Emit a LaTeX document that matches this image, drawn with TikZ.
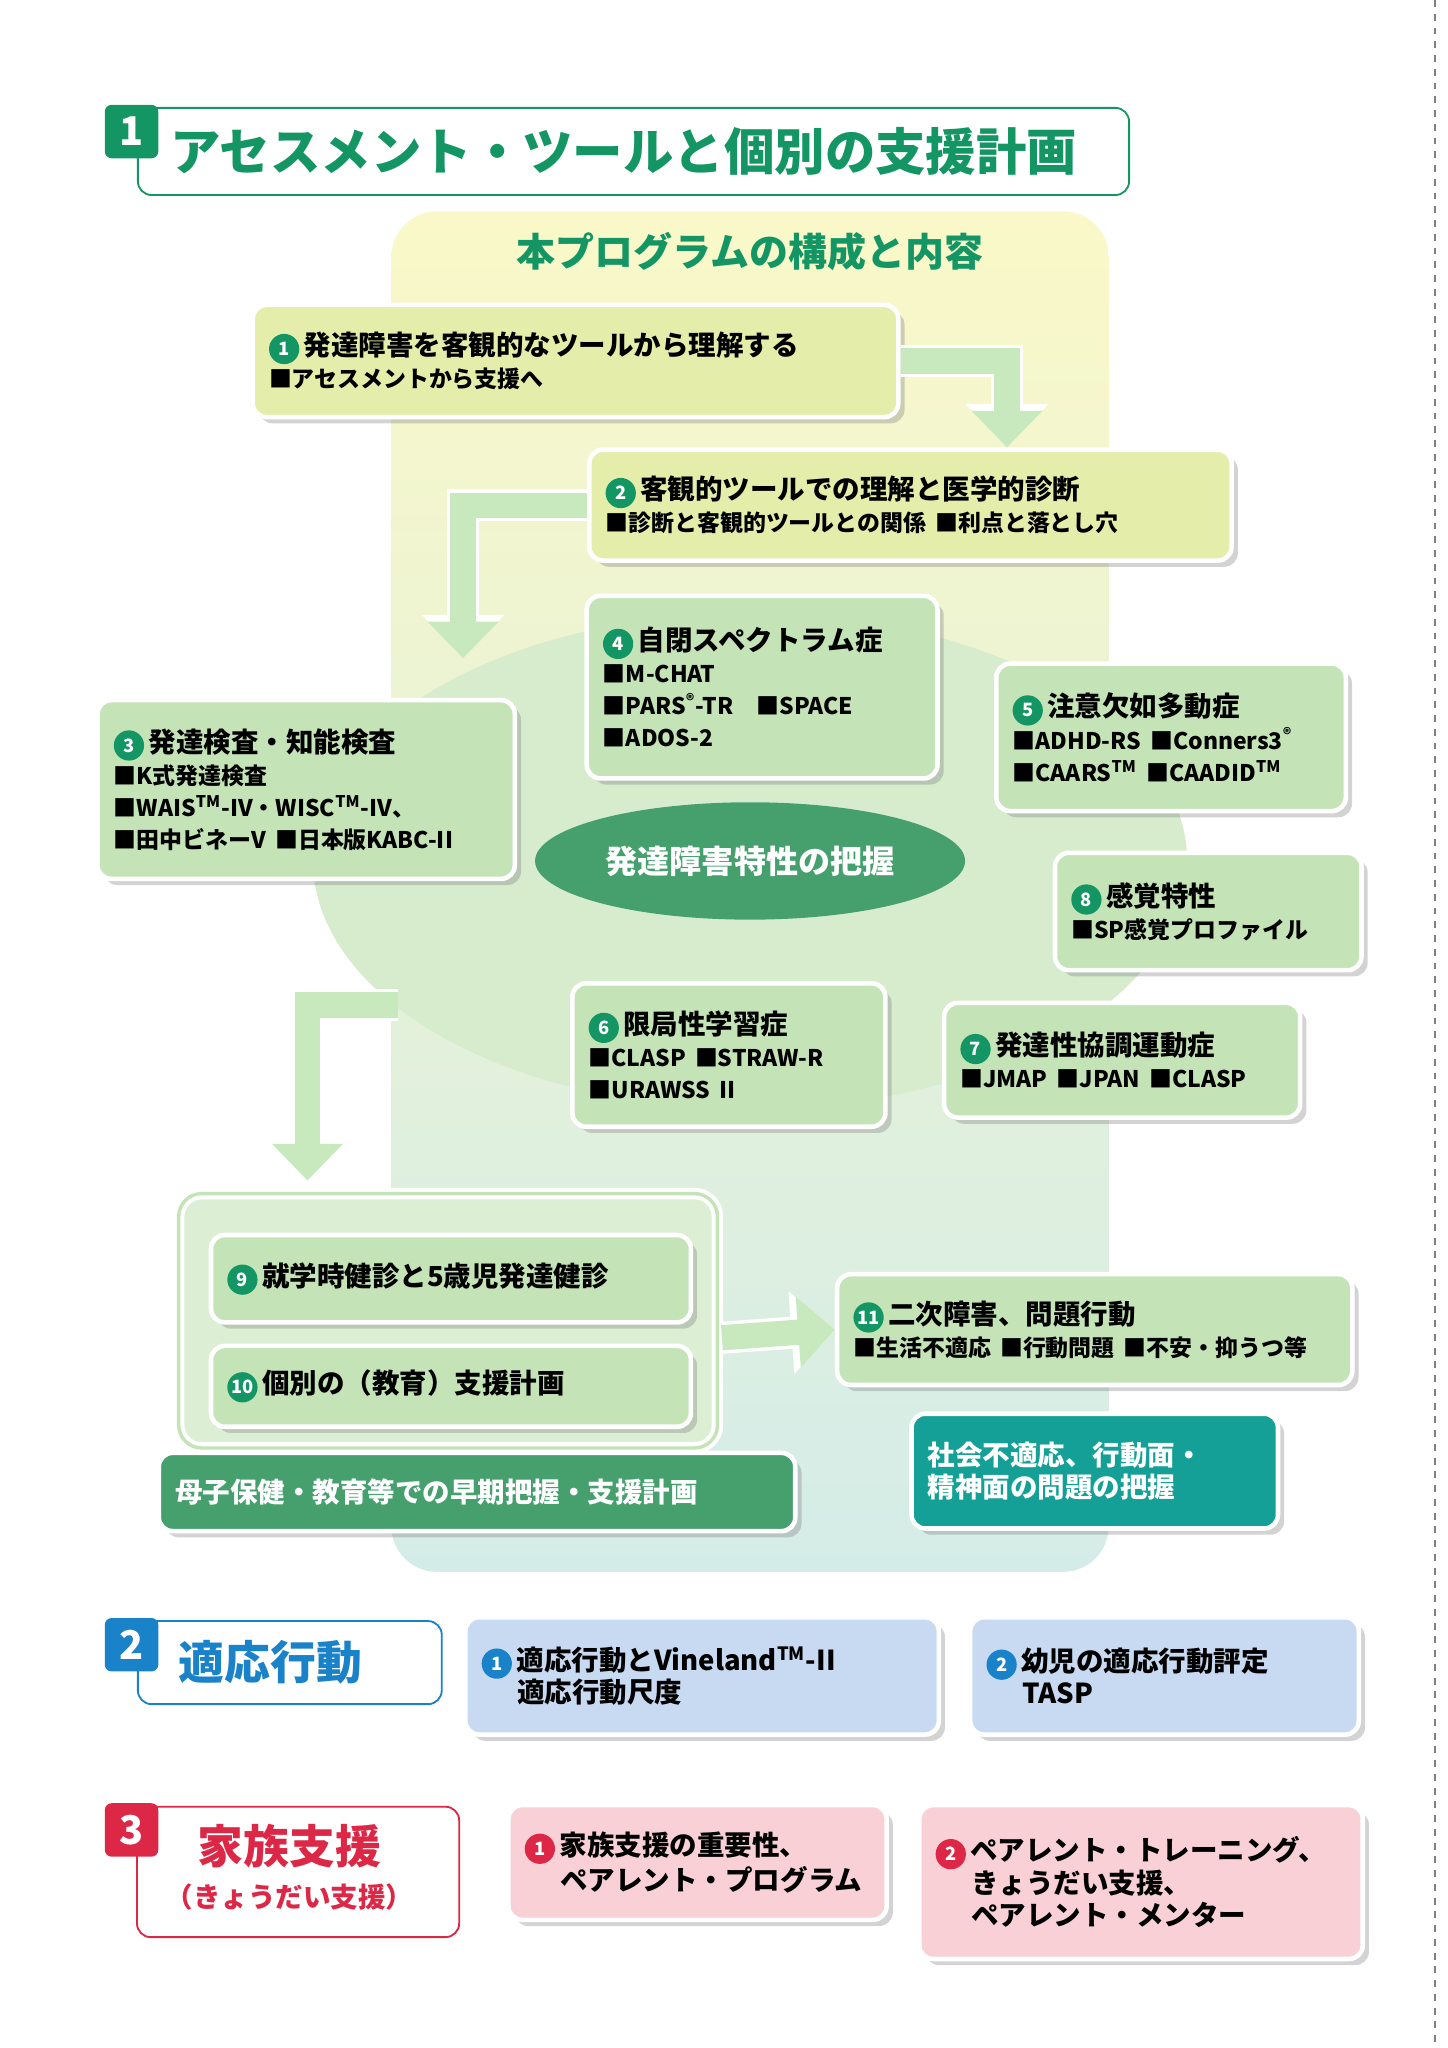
\documentclass[tikz,border=0pt]{standalone}
\usepackage{fontspec}
\setmainfont{Noto Sans CJK JP}
\usetikzlibrary{shadows, arrows.meta, positioning, calc, shapes}
\definecolor{my_green}{RGB}{20, 150, 100}
\definecolor{my_darkgreen}{RGB}{70, 160, 110}
\definecolor{my_boxgreen}{RGB}{196, 228, 184}
\definecolor{my_yellowgreen}{RGB}{228, 238, 170}
\definecolor{my_teal}{RGB}{20, 160, 150}
\definecolor{my_blue}{RGB}{25, 130, 200}
\definecolor{my_lightblue}{RGB}{200, 218, 242}
\definecolor{my_red}{RGB}{220, 40, 70}
\definecolor{my_pink}{RGB}{248, 208, 214}
\definecolor{my_back_top}{RGB}{250, 248, 200}
\definecolor{my_back_bottom}{RGB}{212, 236, 232}
\definecolor{my_arrow}{RGB}{200, 232, 190}
\newcommand\cnum[2]{\tikz[baseline=(cn.base)]\node[circle, fill=#1, text=white, inner sep=0pt, minimum size=1.1em, font=\bfseries\footnotesize] (cn) {#2};\,}
\newcommand\subtxt{\normalsize}
\tikzset {
  box/.style = {draw=white, line width=2pt, rounded corners=6pt, rectangle, fill=my_boxgreen, anchor=north west, align=left, inner sep=0.25cm, font=\bfseries\large, drop shadow={opacity=0.35}},
  head/.style = {draw=#1, thick, rounded corners=6pt, fill=white, anchor=north west, minimum height=1.16cm, inner sep=0.3cm},
  numbox/.style = {fill=#1, rounded corners=3pt, text=white, font=\bfseries\LARGE, minimum size=0.82cm, inner sep=0pt, anchor=north west},
  bigarrow/.style = {-{Triangle[length=16pt, width=30pt]}, line width=11pt, draw=my_arrow},
  bigarrowrim/.style = {-{Triangle[length=19pt, width=35pt]}, line width=14pt, draw=white},
}
\begin{document}
\begin{tikzpicture}[x=0.02cm, y=0.02cm]
  \useasboundingbox (0,0) rectangle (1110,-1570);
  \draw[gray, dashed, line width=1pt] (1100,0) -- (1100,-1570);

  % section 1 heading
  \node[head=my_green, minimum width=15.2cm, text width=14.6cm, font=\bfseries\fontsize{22}{26}\selectfont, text=my_green] (h1) at (105,-82) {\hspace{0.2cm}アセスメント・ツールと個別の支援計画};
  \node[numbox=my_green] (n1) at (80,-80) {1};

  % background panel
  \shade[top color=my_back_top, bottom color=my_back_bottom, rounded corners=20pt] (300,-162) rectangle (850,-1205);
  \node[font=\bfseries\fontsize{17}{20}\selectfont, text=my_green] (subtitle) at (575,-193) {本プログラムの構成と内容};

  % central ellipse
  \fill[my_boxgreen!70!white] (575,-660) ellipse [x radius=335, y radius=190];
  \node[ellipse, fill=my_darkgreen, text=white, font=\bfseries\fontsize{14}{16}\selectfont, minimum width=6.2cm, minimum height=1.8cm] (core) at (575,-660) {発達障害特性の把握};

  \node[box, fill=my_yellowgreen, text width=9.4cm, minimum height=1.72cm] (b1) at (192,-232)
    {\cnum{my_green}{1}発達障害を客観的なツールから理解する\\{\subtxt ■アセスメントから支援へ}};
  \node[box, fill=my_yellowgreen, text width=9.35cm, minimum height=1.7cm] (b2) at (450,-343)
    {\cnum{my_green}{2}客観的ツールでの理解と医学的診断\\{\subtxt ■診断と客観的ツールとの関係 ■利点と落とし穴}};
  \node[box, text width=4.88cm, minimum height=2.8cm] (b4) at (448,-455)
    {\cnum{my_green}{4}自閉スペクトラム症\\{\subtxt ■M-CHAT}\\{\subtxt ■PARS\textsuperscript{®}-TR\quad■SPACE}\\{\subtxt ■ADOS-2}};
  \node[box, text width=5.9cm, minimum height=2.74cm] (b3) at (73,-535)
    {\cnum{my_green}{3}発達検査・知能検査\\{\subtxt ■K式発達検査}\\{\subtxt ■WAIS\textsuperscript{TM}-IV・WISC\textsuperscript{TM}-IV、}\\{\subtxt ■田中ビネーV ■日本版KABC-II}};
  \node[box, text width=4.86cm, minimum height=2.26cm] (b5) at (762,-507)
    {\cnum{my_green}{5}注意欠如多動症\\{\subtxt ■ADHD-RS ■Conners3\textsuperscript{®}}\\{\subtxt ■CAARS\textsuperscript{TM} ■CAADID\textsuperscript{TM}}};
  \node[box, text width=4.2cm, minimum height=1.8cm] (b8) at (807,-652)
    {\cnum{my_green}{8}感覚特性\\{\subtxt ■SP感覚プロファイル}};
  \node[box, text width=4.3cm, minimum height=2.2cm] (b6) at (437,-752)
    {\cnum{my_green}{6}限局性学習症\\{\subtxt ■CLASP ■STRAW-R}\\{\subtxt ■URAWSS II}};
  \node[box, text width=4.96cm, minimum height=1.76cm] (b7) at (722,-767)
    {\cnum{my_green}{7}発達性協調運動症\\{\subtxt ■JMAP ■JPAN ■CLASP}};

  % early detection frame
  \draw[white, line width=5pt, rounded corners=10pt, fill=my_boxgreen!60!white] (137,-915) rectangle (550,-1110);
  \draw[my_boxgreen, line width=1.5pt, rounded corners=10pt] (137,-915) rectangle (550,-1110);
  \node[box, text width=6.86cm, minimum height=1.34cm] (b9) at (160,-945)
    {\cnum{my_green}{9}就学時健診と5歳児発達健診};
  \node[box, text width=6.86cm, minimum height=1.24cm] (b10) at (160,-1030)
    {\cnum{my_green}{10}個別の（教育）支援計画};
  \node[box, fill=my_darkgreen, text=white, text width=9.26cm, minimum height=1.2cm] (early) at (120,-1112)
    {母子保健・教育等での早期把握・支援計画};
  \node[box, text width=7.4cm, minimum height=1.7cm] (b11) at (640,-975)
    {\cnum{my_green}{11}二次障害、問題行動\\{\subtxt ■生活不適応 ■行動問題 ■不安・抑うつ等}};
  \node[box, fill=my_teal, text=white, text width=5.12cm, minimum height=1.76cm] (social) at (697,-1082)
    {社会不適応、行動面・\\精神面の問題の把握};

  % flow arrows
  \foreach \s in {bigarrowrim, bigarrow} {
    \draw[\s] (b1.east) -| ($(b2.north)+(74,0)$);
    \draw[\s] (b2.west) -| ($(core.north)+(-220,110)$);
    \draw[\s] ($(core.south)+(-270,-65)$) -| ($(b9.north)+(-110,40)$);
    \draw[\s] ($(b9.south east)+(22,-10)$) -- (b11.west);
  }

  % section 2
  \node[head=my_blue, minimum width=4.66cm, minimum height=1.16cm, text width=4cm, font=\bfseries\fontsize{20}{24}\selectfont, text=my_blue] (h2) at (105,-1242) {\hspace{0.3cm}適応行動};
  \node[numbox=my_blue] (n2) at (80,-1240) {2};
  \node[box, fill=my_lightblue, text width=6.76cm, minimum height=1.8cm] (c1) at (355,-1238)
    {\cnum{my_blue}{1}適応行動とVineland\textsuperscript{TM}-II\\\hspace{1.3em}適応行動尺度};
  \node[box, fill=my_lightblue, text width=5.46cm, minimum height=1.8cm] (c2) at (742,-1238)
    {\cnum{my_blue}{2}幼児の適応行動評定\\\hspace{1.3em}TASP};

  % section 3
  \draw[my_red, thick, rounded corners=6pt, fill=white] (105,-1385) rectangle (352,-1485);
  \node[font=\bfseries\fontsize{20}{24}\selectfont, text=my_red] (h3) at (222,-1415) {家族支援};
  \node[font=\bfseries\large, text=my_red, below=0pt of h3] (h3sub) {（きょうだい支援）};
  \node[numbox=my_red] (n3) at (80,-1382) {3};
  \node[box, fill=my_pink, text width=5.3cm, minimum height=1.76cm] (d1) at (388,-1382)
    {\cnum{my_red}{1}家族支援の重要性、\\\hspace{1.3em}ペアレント・プログラム};
  \node[box, fill=my_pink, text width=6.3cm, minimum height=2.36cm] (d2) at (703,-1382)
    {\cnum{my_red}{2}ペアレント・トレーニング、\\\hspace{1.3em}きょうだい支援、\\\hspace{1.3em}ペアレント・メンター};
\end{tikzpicture}
\end{document}
